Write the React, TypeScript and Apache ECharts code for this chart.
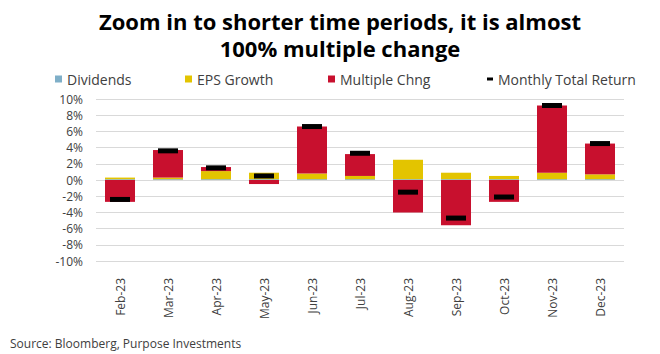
import React, { useEffect, useRef } from "react";
import * as echarts from "echarts";

const months = ["Feb-23", "Mar-23", "Apr-23", "May-23", "Jun-23", "Jul-23", "Aug-23", "Sep-23", "Oct-23", "Nov-23", "Dec-23"];
const dividends = [0.1, 0.1, 0.1, 0.1, 0.1, 0.1, 0.1, 0.1, 0.1, 0.1, 0.1];
const epsGrowth = [0.2, 0.2, 1.0, 0.8, 0.7, 0.4, 2.4, 0.8, 0.4, 0.8, 0.6];
const multipleChng = [-2.7, 3.4, 0.5, -0.5, 5.8, 2.7, -4.0, -5.6, -2.7, 8.3, 3.8];
const totalReturn = [-2.4, 3.6, 1.5, 0.5, 6.6, 3.3, -1.5, -4.7, -2.1, 9.2, 4.5];
const yTicks = { min: -10, max: 10, interval: 2 };

const FONT = "'Open Sans', sans-serif";
const GRAY = "#404040";

export default function App() {
  const ref = useRef<HTMLDivElement>(null);
  useEffect(() => {
    if (!ref.current) return;
    const chart = echarts.init(ref.current, null, { renderer: "svg" });
    const legendBase = {
      top: 67,
      itemHeight: 7,
      itemWidth: 7,
      icon: "rect",
      textStyle: { fontFamily: FONT, fontSize: 14, color: GRAY },
      selectedMode: false,
    };
    chart.setOption({
      animation: false,
      textStyle: { fontFamily: FONT },
      graphic: [
        {
          type: "text",
          x: 340,
          y: 7,
          style: {
            text: "Zoom in to shorter time periods, it is almost\n100% multiple change",
            textAlign: "center",
            font: `bold 22px ${FONT}`,
            lineHeight: 27,
            fill: "#000",
          },
        },
        {
          type: "text",
          x: 10,
          y: 337,
          style: {
            text: "Source: Bloomberg, Purpose Investments",
            font: `12px ${FONT}`,
            fill: GRAY,
          },
        },
      ],
      legend: [
        { ...legendBase, left: 50, data: ["Dividends"] },
        { ...legendBase, left: 180, data: ["EPS Growth"] },
        { ...legendBase, left: 323, data: ["Multiple Chng"] },
        { ...legendBase, left: 482, itemWidth: 6, itemHeight: 3, data: ["Monthly Total Return"] },
      ],
      grid: { left: 96, right: 36, top: 99, bottom: 93 },
      xAxis: {
        type: "category",
        data: months,
        axisLine: { show: false },
        axisTick: { show: false },
        axisLabel: { rotate: 90, fontSize: 12, color: GRAY, fontFamily: FONT, margin: 17 },
      },
      yAxis: {
        type: "value",
        min: yTicks.min,
        max: yTicks.max,
        interval: yTicks.interval,
        axisLine: { show: false },
        axisTick: { show: false },
        axisLabel: { formatter: (v: number) => `${v}%`, fontSize: 12, color: GRAY, fontFamily: FONT, margin: 13 },
        splitLine: { lineStyle: { color: "#d9d9d9", width: 1 } },
      },
      series: [
        { name: "Dividends", type: "bar", stack: "t", barWidth: 30, data: dividends, itemStyle: { color: "#7FAFC8" } },
        { name: "EPS Growth", type: "bar", stack: "t", barWidth: 30, data: epsGrowth, itemStyle: { color: "#E3C400" } },
        { name: "Multiple Chng", type: "bar", stack: "t", barWidth: 30, data: multipleChng, itemStyle: { color: "#C8102E" } },
        {
          name: "Monthly Total Return",
          type: "scatter",
          symbol: "rect",
          symbolSize: [20, 5],
          data: totalReturn,
          itemStyle: { color: "#000", opacity: 1 },
          z: 5,
        },
      ],
    });
    return () => chart.dispose();
  }, []);
  return <div ref={ref} style={{ position: "absolute", left: 0, top: 0, width: 660, height: 354 }} />;
}
